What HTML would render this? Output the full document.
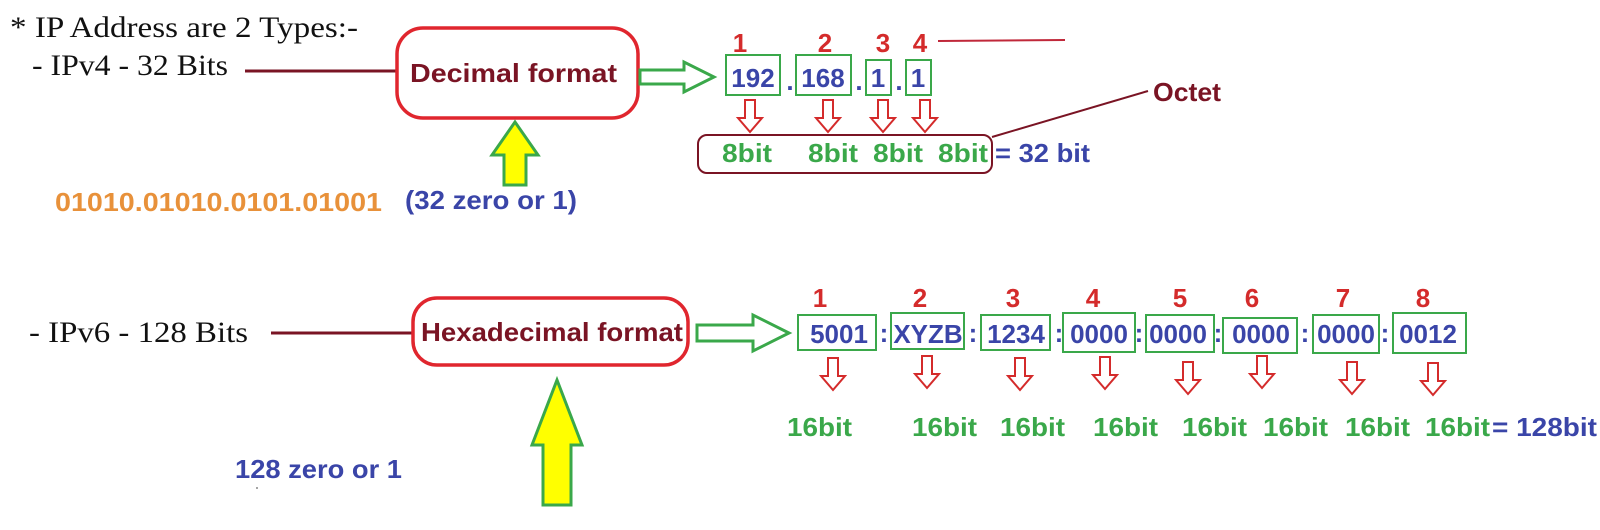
<!DOCTYPE html>
<html><head><meta charset="utf-8"><style>
html,body{margin:0;padding:0;background:#fff;width:1600px;height:530px;overflow:hidden}
svg{display:block}
.s{font-family:"Liberation Serif",serif;font-size:30px;fill:#111}
.b{font-family:"Liberation Sans",sans-serif;font-weight:bold;font-size:26px}
.n{fill:#d42b2b}.bl{fill:#3a45a8}.g{fill:#3aa84a}.dr{fill:#7a1424}.o{fill:#e8913a}
</style></head><body>
<svg width="1600" height="530" viewBox="0 0 1600 530" xmlns="http://www.w3.org/2000/svg">
<defs>
<g id="da"><path d="M-5,0 h10 v18 h7 l-12,14 l-12,-14 h7 z" fill="#fff" stroke="#d42b2b" stroke-width="2"/></g>
</defs>
<text class="s" x="10" y="37" textLength="348" lengthAdjust="spacingAndGlyphs">* IP Address are 2 Types:-</text>
<text class="s" x="32" y="75" textLength="196" lengthAdjust="spacingAndGlyphs">- IPv4 - 32 Bits</text>
<line x1="245" y1="71" x2="397" y2="71" stroke="#7a1424" stroke-width="3"/>
<rect x="397" y="28" width="241" height="90" rx="26" fill="#fff" stroke="#e0262e" stroke-width="3.5"/>
<text class="b dr" x="410" y="82" textLength="207" lengthAdjust="spacingAndGlyphs" font-size="28">Decimal format</text>
<path d="M640,70 h44 v-8 l30,15 l-30,15 v-8 h-44 z" fill="#fff" stroke="#3aa84a" stroke-width="3"/>
<path d="M504,185 v-30 h-12 l23,-33 l23,33 h-12 v30 z" fill="#ffff00" stroke="#3aa84a" stroke-width="3"/>
<g fill="none" stroke="#3aa84a" stroke-width="2">
<rect x="726" y="55" width="54" height="40"/><rect x="796" y="55" width="55" height="40"/>
<rect x="866" y="60" width="25" height="35"/><rect x="906" y="60" width="25" height="35"/>
</g>
<g class="b bl" font-size="28" text-anchor="middle">
<text x="753" y="87">192</text><text x="823" y="87">168</text>
<text x="878" y="87">1</text><text x="918" y="87">1</text>
<text x="790" y="90">.</text><text x="859" y="90">.</text><text x="899" y="90">.</text>
</g>
<g class="b n" font-size="27" text-anchor="middle">
<text x="740" y="52">1</text><text x="825" y="52">2</text>
<text x="883" y="52">3</text><text x="920" y="52">4</text>
</g>
<line x1="938" y1="41" x2="1065" y2="40" stroke="#c0283a" stroke-width="2"/>
<use href="#da" x="750" y="100"/><use href="#da" x="828" y="100"/><use href="#da" x="883" y="100"/><use href="#da" x="925" y="100"/>
<rect x="698" y="135" width="294" height="38" rx="9" fill="none" stroke="#7a1424" stroke-width="2"/>
<g class="b g" font-size="27">
<text x="722" y="162" textLength="50" lengthAdjust="spacingAndGlyphs">8bit</text>
<text x="808" y="162" textLength="50" lengthAdjust="spacingAndGlyphs">8bit</text>
<text x="873" y="162" textLength="50" lengthAdjust="spacingAndGlyphs">8bit</text>
<text x="938" y="162" textLength="50" lengthAdjust="spacingAndGlyphs">8bit</text>
</g>
<text class="b bl" x="995" y="162" font-size="27" textLength="95" lengthAdjust="spacingAndGlyphs">= 32 bit</text>
<line x1="992" y1="137" x2="1148" y2="91" stroke="#7a1424" stroke-width="2"/>
<text class="b dr" x="1153" y="101" font-size="27" textLength="68" lengthAdjust="spacingAndGlyphs">Octet</text>
<text class="b o" x="55" y="211" font-size="27" textLength="327" lengthAdjust="spacingAndGlyphs">01010.01010.0101.01001</text>
<text class="b bl" x="405" y="209" font-size="27" textLength="172" lengthAdjust="spacingAndGlyphs">(32 zero or 1)</text>
<!-- ipv6 -->
<text class="s" x="29" y="342" textLength="219" lengthAdjust="spacingAndGlyphs">- IPv6 - 128 Bits</text>
<line x1="271" y1="333" x2="412" y2="333" stroke="#7a1424" stroke-width="3"/>
<rect x="413" y="298" width="275" height="67" rx="24" fill="#fff" stroke="#e0262e" stroke-width="3.5"/>
<text class="b dr" x="421" y="341" font-size="27" textLength="262" lengthAdjust="spacingAndGlyphs">Hexadecimal format</text>
<path d="M697,325 h56 v-10 l36,18 l-36,18 v-10 h-56 z" fill="#fff" stroke="#3aa84a" stroke-width="3"/>
<path d="M543,505 v-60 h-11 l25,-65 l25,65 h-11 v60 z" fill="#ffff00" stroke="#3aa84a" stroke-width="3"/>
<g fill="none" stroke="#3aa84a" stroke-width="2">
<rect x="798" y="315" width="78" height="35"/><rect x="891" y="313" width="73" height="36"/>
<rect x="981" y="315" width="69" height="35"/><rect x="1063" y="313" width="72" height="39"/>
<rect x="1146" y="315" width="68" height="37"/><rect x="1223" y="318" width="74" height="35"/>
<rect x="1313" y="315" width="66" height="38"/><rect x="1393" y="313" width="73" height="40"/>
</g>
<g class="b bl" font-size="28" text-anchor="middle">
<text x="839" y="343">5001</text><text x="928" y="343">XYZB</text><text x="1016" y="343">1234</text>
<text x="1099" y="343">0000</text><text x="1178" y="343">0000</text><text x="1261" y="343">0000</text>
<text x="1346" y="343">0000</text><text x="1428" y="343">0012</text>
<text x="884" y="342">:</text><text x="973" y="342">:</text><text x="1059" y="342">:</text>
<text x="1139" y="342">:</text><text x="1218" y="342">:</text><text x="1305" y="342">:</text><text x="1385" y="342">:</text>
</g>
<g class="b n" font-size="27" text-anchor="middle">
<text x="820" y="307">1</text><text x="920" y="307">2</text><text x="1013" y="307">3</text><text x="1093" y="307">4</text>
<text x="1180" y="307">5</text><text x="1252" y="307">6</text><text x="1343" y="307">7</text><text x="1423" y="307">8</text>
</g>
<use href="#da" x="833" y="358"/><use href="#da" x="927" y="356"/><use href="#da" x="1020" y="358"/><use href="#da" x="1105" y="357"/>
<use href="#da" x="1188" y="362"/><use href="#da" x="1262" y="356"/><use href="#da" x="1352" y="362"/><use href="#da" x="1433" y="363"/>
<g class="b g" font-size="27">
<text x="787" y="436" textLength="65" lengthAdjust="spacingAndGlyphs">16bit</text>
<text x="912" y="436" textLength="65" lengthAdjust="spacingAndGlyphs">16bit</text>
<text x="1000" y="436" textLength="65" lengthAdjust="spacingAndGlyphs">16bit</text>
<text x="1093" y="436" textLength="65" lengthAdjust="spacingAndGlyphs">16bit</text>
<text x="1182" y="436" textLength="65" lengthAdjust="spacingAndGlyphs">16bit</text>
<text x="1263" y="436" textLength="65" lengthAdjust="spacingAndGlyphs">16bit</text>
<text x="1345" y="436" textLength="65" lengthAdjust="spacingAndGlyphs">16bit</text>
<text x="1425" y="436" textLength="65" lengthAdjust="spacingAndGlyphs">16bit</text>
</g>
<text class="b bl" x="1492" y="436" font-size="27" textLength="105" lengthAdjust="spacingAndGlyphs">= 128bit</text>
<text class="b bl" x="235" y="478" font-size="27" textLength="167" lengthAdjust="spacingAndGlyphs">128 zero or 1</text>
<circle cx="257" cy="488" r="1" fill="#888"/>
</svg>
</body></html>
